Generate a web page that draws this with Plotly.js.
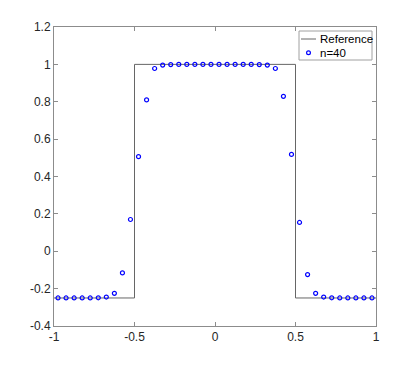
<!DOCTYPE html>
<html>
<head>
<meta charset="utf-8">
<script src="https://cdn.plot.ly/plotly-3.0.1.min.js"></script>
<style>
  body { margin: 0; background: #fff; }
  #plot { width: 415px; height: 367px; }
</style>
</head>
<body>
<div id="plot"></div>
<script>
// step function used as reference
const refX = [-1, -0.5, -0.5, 0.5, 0.5, 1]
const refY = [-0.25, -0.25, 1, 1, -0.25, -0.25]

// n=40 sample points
const ptsX = [-0.975, -0.925, -0.875, -0.825, -0.775, -0.725, -0.675, -0.625, -0.575, -0.525,
  -0.475, -0.425, -0.375, -0.325, -0.275, -0.225, -0.175, -0.125, -0.075, -0.025,
  0.025, 0.075, 0.125, 0.175, 0.225, 0.275, 0.325, 0.375, 0.425, 0.475,
  0.525, 0.575, 0.625, 0.675, 0.725, 0.775, 0.825, 0.875, 0.925, 0.975]
const ptsY = [-0.25, -0.25, -0.25, -0.25, -0.25, -0.249, -0.245, -0.225, -0.116, 0.17,
  0.506, 0.81, 0.978, 0.996, 0.999, 1.0, 1.0, 1.0, 1.0, 1.0,
  1.0, 1.0, 1.0, 1.0, 1.0, 0.999, 0.996, 0.978, 0.829, 0.518,
  0.154, -0.125, -0.225, -0.245, -0.249, -0.25, -0.25, -0.25, -0.25, -0.25]

const xTicks = [-1, -0.5, 0, 0.5, 1]
const yTicks = [-0.4, -0.2, 0, 0.2, 0.4, 0.6, 0.8, 1, 1.2]
const legendNames = ['Reference', 'n=40']

const refColor = '#666666'
const ptsColor = '#0000ff'
const font = {family: 'Liberation Sans, Arial, sans-serif', size: 12, color: '#262626'}

// plot area in pixels, used to place the hand-made legend
const L = 54, T = 27, W = 322, H = 299
const px = v => (v - L) / W
const py = v => 1 - (v - T) / H

const trace1 = {
  x: refX,
  y: refY,
  mode: 'lines',
  type: 'scatter',
  name: legendNames[0],
  line: {color: refColor, width: 1}
}

const trace2 = {
  x: ptsX,
  y: ptsY,
  mode: 'markers',
  type: 'scatter',
  name: legendNames[1],
  marker: {symbol: 'circle-open', size: 4, color: ptsColor, line: {width: 1.2, color: ptsColor}}
}

const axisStyle = {
  showgrid: false,
  zeroline: false,
  showline: true,
  mirror: 'ticks',
  linecolor: '#8c8c8c',
  linewidth: 1,
  ticks: 'inside',
  ticklen: 4,
  tickcolor: '#8c8c8c',
  tickfont: font
}

// MATLAB-style compact legend
const shapes = [
  {type: 'rect', xref: 'paper', yref: 'paper', x0: px(299), x1: px(372), y0: py(31), y1: py(60),
    line: {color: '#a0a0a0', width: 1}, fillcolor: '#ffffff', layer: 'above'},
  {type: 'line', xref: 'paper', yref: 'paper', x0: px(301), x1: px(316), y0: py(39), y1: py(39),
    line: {color: refColor, width: 1}, layer: 'above'},
  {type: 'circle', xref: 'paper', yref: 'paper', x0: px(306.6), x1: px(310.4), y0: py(50.8), y1: py(54.6),
    line: {color: ptsColor, width: 1.2}, layer: 'above'}
]
const legFont = Object.assign({}, font, {size: 11.5, color: '#000000'})
const annotations = [
  {xref: 'paper', yref: 'paper', x: px(317.5), y: py(39.5), text: legendNames[0], showarrow: false,
    xanchor: 'left', yanchor: 'middle', font: legFont},
  {xref: 'paper', yref: 'paper', x: px(317.5), y: py(52.7), text: legendNames[1], showarrow: false,
    xanchor: 'left', yanchor: 'middle', font: legFont}
]

var layout = {
  width: 415,
  height: 367,
  margin: {l: L, r: 415 - L - W, t: T, b: 367 - T - H},
  showlegend: false,
  shapes: shapes,
  annotations: annotations,
  xaxis: Object.assign({}, axisStyle, {range: [-1, 1], tickvals: xTicks, ticktext: xTicks.map(String)}),
  yaxis: Object.assign({}, axisStyle, {range: [-0.4, 1.2], tickvals: yTicks, ticktext: yTicks.map(String)}),
  paper_bgcolor: '#ffffff',
  plot_bgcolor: '#ffffff'
}

Plotly.newPlot('plot', [trace1, trace2], layout, {staticPlot: true})
</script>
</body>
</html>
